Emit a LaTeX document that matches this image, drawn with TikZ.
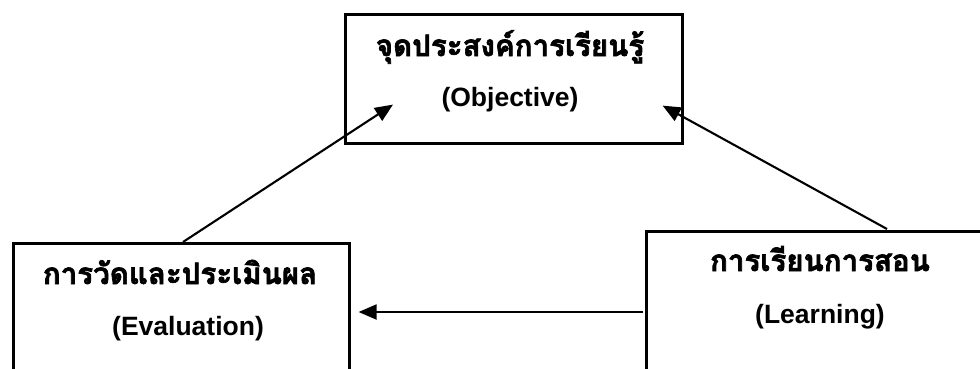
\documentclass[tikz,border=0pt]{standalone}
\usepackage{fontspec}
\setmainfont{Liberation Sans}
\newfontfamily\thaifont[Script=Thai, BoldFeatures={FakeBold=2.2}]{Loma}
\usetikzlibrary{arrows.meta,calc}
\tikzset{
  boxnode/.style={draw=black, line width=2.6pt, fill=none, inner sep=0pt, anchor=north west},
  arr/.style={draw=black, line width=2.1pt, -{Triangle[length=18pt,width=15pt]}},
  thaitxt/.style={font=\thaifont\bfseries\fontsize{29.5}{34}\selectfont, anchor=base, inner sep=0pt},
  lattxt/.style={font=\bfseries\fontsize{26.5}{30}\selectfont, anchor=base, inner sep=0pt}
}
\begin{document}
\begin{tikzpicture}[x=1pt,y=1pt]
\useasboundingbox (0,0) rectangle (980,368);
\clip (0,0) rectangle (980,368);
\fill[white] (0,0) rectangle (980,368);
% boxes
\node[boxnode, minimum width=337pt, minimum height=129pt] (obj) at (344,355) {};
\node[boxnode, minimum width=336pt, minimum height=150pt] (eval) at (12,126) {};
\node[boxnode, minimum width=360pt, minimum height=160pt] (learn) at (645,138) {};
% texts
\node[thaitxt] (objth) at (510,312) {จุดประสงค์การเรียนรู้};
\node[lattxt] (objen) at (510,262) {(Objective)};
\node[thaitxt] (evalth) at (180,84) {การวัดและประเมินผล};
\node[lattxt] (evalen) at (188,33) {(Evaluation)};
\node[thaitxt] (learnth) at (820,97) {การเรียนการสอน};
\node[lattxt] (learnen) at (820,45) {(Learning)};
% connector ends
\coordinate (a1s) at ($(eval.north west)+(171,0)$);
\coordinate (a1e) at ($(obj.south west)+(49,40)$);
\coordinate (a2s) at ($(learn.north west)+(242,1)$);
\coordinate (a2e) at ($(obj.south east)+(-21,39)$);
\coordinate (a3s) at ($(learn.north west)+(-2,-82)$);
\coordinate (a3e) at ($(eval.north east)+(8,-70)$);
\draw[arr] (a1s) -- (a1e);
\draw[arr] (a2s) -- (a2e);
\draw[arr] (a3s) -- (a3e);
\end{tikzpicture}
\end{document}
